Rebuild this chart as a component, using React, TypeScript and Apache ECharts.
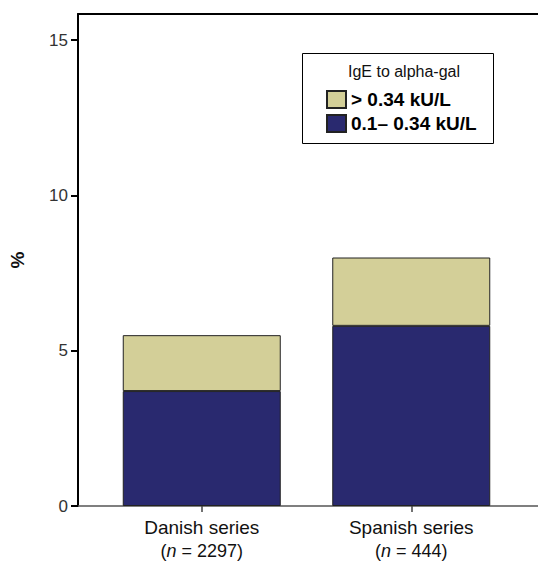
import React, { useEffect, useRef } from "react";
import * as echarts from "echarts";

const categories = ["Danish series", "Spanish series"];
const sampleSizes = [2297, 444];
const lowSeriesName = "0.1– 0.34 kU/L";
const highSeriesName = "> 0.34 kU/L";
const lowValues = [3.7, 5.8];
const highValues = [1.8, 2.2];
const yTicks = [0, 5, 10, 15];
const legendTitle = "IgE to alpha-gal";
const yName = "%";

const FONT = "Arial, 'Liberation Sans', Helvetica, sans-serif";
const TAN = "#D3CF98";
const BLUE = "#29296F";

export default function App() {
  const ref = useRef<HTMLDivElement>(null);
  useEffect(() => {
    document.body.style.margin = "0";
    const chart = echarts.init(ref.current!, null, { renderer: "svg" });
    const yMax = 15.84;
    const option: any = {
      animation: false,
      backgroundColor: "#ffffff",
      textStyle: { fontFamily: FONT },
      grid: [
        { left: 97, right: 22, top: 14, bottom: 57 },
        { left: 74, right: 0, top: 14, bottom: 57 },
      ],
      xAxis: [
        {
          type: "category",
          gridIndex: 0,
          data: categories,
          axisLine: { show: false },
          axisTick: { show: true, alignWithLabel: true, length: 6, lineStyle: { color: "#444", width: 1.5 } },
          axisLabel: {
            margin: 9,
            interval: 0,
            formatter: (v: string, i: number) =>
              `{a|${v}}\n{b|(}{i|n}{b| = ${sampleSizes[i]})}`,
            rich: {
              a: { fontSize: 19, color: "#111", fontFamily: FONT, lineHeight: 24 },
              b: { fontSize: 18, color: "#111", fontFamily: FONT, lineHeight: 23 },
              i: { fontSize: 18, color: "#111", fontFamily: FONT, fontStyle: "italic", lineHeight: 23 },
            },
          },
        },
        {
          type: "value",
          gridIndex: 1,
          min: 0,
          max: 1,
          position: "bottom",
          axisLine: { show: true, lineStyle: { color: "#555", width: 1.5 } },
          axisTick: { show: false },
          axisLabel: { show: false },
          splitLine: { show: false },
        },
        {
          type: "value",
          gridIndex: 1,
          min: 0,
          max: 1,
          position: "top",
          axisLine: { show: true, lineStyle: { color: "#000", width: 2 } },
          axisTick: { show: false },
          axisLabel: { show: false },
          splitLine: { show: false },
        },
      ],
      yAxis: [
        {
          type: "value",
          gridIndex: 0,
          min: 0,
          max: yMax,
          show: false,
          splitLine: { show: false },
        },
        {
          type: "value",
          gridIndex: 1,
          min: 0,
          max: yMax,
          name: yName,
          nameLocation: "middle",
          nameRotate: 90,
          nameGap: 51,
          nameTextStyle: { fontSize: 19, fontWeight: "bold", color: "#111", fontFamily: FONT },
          axisLine: { show: true, lineStyle: { color: "#000", width: 2 } },
          axisTick: {
            show: true,
            length: 7,
            customValues: yTicks,
            lineStyle: { color: "#000", width: 2 },
          },
          axisLabel: {
            customValues: yTicks,
            margin: 10,
            fontSize: 17,
            color: "#333",
            fontFamily: FONT,
          },
          splitLine: { show: false },
        },
      ],
      legend: {
        orient: "vertical",
        left: 326,
        top: 90,
        padding: 0,
        icon: "rect",
        itemWidth: 19,
        itemHeight: 17,
        itemGap: 5,
        z: 10,
        data: [highSeriesName, lowSeriesName],
        textStyle: { fontSize: 19, fontWeight: "bold", color: "#000", fontFamily: FONT },
      },
      graphic: [
        {
          type: "rect",
          z: 1,
          shape: { x: 302.5, y: 53.5, width: 191, height: 90 },
          style: { fill: "#fff", stroke: "#000", lineWidth: 1 },
        },
        {
          type: "text",
          z: 11,
          x: 404,
          y: 71,
          style: {
            text: legendTitle,
            fontSize: 16,
            fill: "#111",
            fontFamily: FONT,
            align: "center",
            verticalAlign: "middle",
          },
        },
      ],
      series: [
        {
          name: lowSeriesName,
          type: "bar",
          stack: "total",
          xAxisIndex: 0,
          yAxisIndex: 0,
          barWidth: 158,
          data: lowValues,
          itemStyle: { color: BLUE, borderColor: "#222", borderWidth: 1 },
        },
        {
          name: highSeriesName,
          type: "bar",
          stack: "total",
          xAxisIndex: 0,
          yAxisIndex: 0,
          barWidth: 158,
          data: highValues,
          itemStyle: { color: TAN, borderColor: "#222", borderWidth: 1 },
        },
      ],
    };
    chart.setOption(option);
    return () => chart.dispose();
  }, []);
  return <div ref={ref} style={{ width: 538, height: 563 }} />;
}
